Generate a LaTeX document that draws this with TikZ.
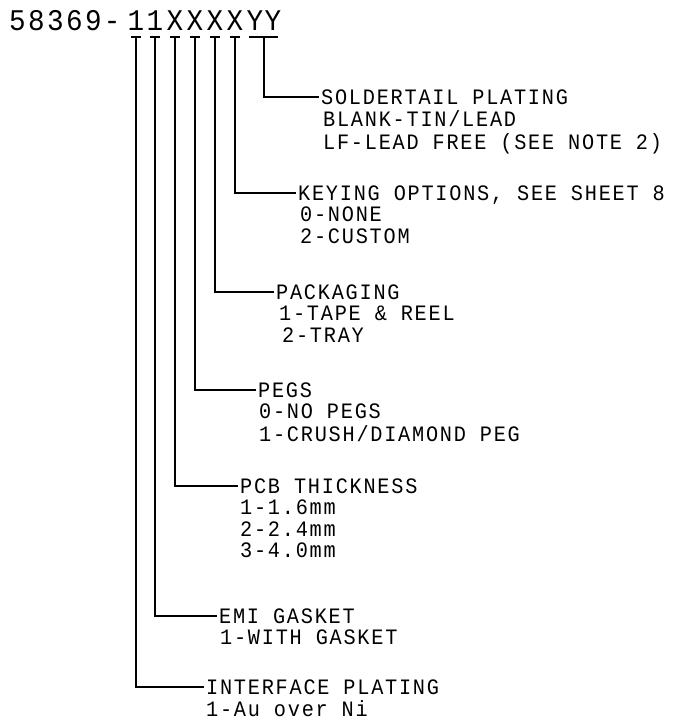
\documentclass[tikz,border=0pt]{standalone}
\usepackage{fontspec}
\newfontfamily\cadfont{Liberation Mono}[LetterSpace=8,FakeStretch=0.92]
\usetikzlibrary{positioning,calc}

\newcommand{\hdrfont}{\cadfont\fontsize{30}{30}\selectfont}
\newcommand{\lblfont}{\cadfont\fontsize{22}{21}\selectfont}

\tikzset{
  hdr/.style={font=\hdrfont, inner sep=0pt, anchor=base},
  ttl/.style={font=\lblfont, inner xsep=2pt, inner ysep=0pt, text height=14pt, text depth=0pt, anchor=west},
  opt/.style={font=\lblfont, inner sep=0pt, anchor=north west, align=left},
  lead/.style={line width=1.1pt},
}

\begin{document}
\begin{tikzpicture}[x=1pt,y=-1pt]

    \useasboundingbox (0,0) rectangle (682,725);

    % part number
    \node[hdr,anchor=base west] (pn) at (9,31) {58369-};
    \foreach \c/\x [count=\i] in {1/136,1/155,X/175,X/195,X/215,X/235,Y/255,Y/273}
        \node[hdr] (c\i) at (\x,31) {\c};

    % underlines
    \foreach \i in {1,...,6}
        \draw[lead] ([xshift=-5pt,yshift=-6pt]c\i.base) -- ([xshift=5pt,yshift=-6pt]c\i.base);
    \draw[lead] ([xshift=-6pt,yshift=-6pt]c7.base) -- ([xshift=5pt,yshift=-6pt]c8.base);
    \coordinate (yy) at ($(c7.base)!0.5!(c8.base)+(0,6)$);

    % titles
    \node[ttl] (solder) at (319,97) {SOLDERTAIL PLATING};
    \node[ttl] (keying) at (296,193) {KEYING OPTIONS, SEE SHEET 8};
    \node[ttl] (pack)   at (274,292) {PACKAGING};
    \node[ttl] (pegs)   at (256,390) {PEGS};
    \node[ttl] (pcb)    at (238,486) {PCB THICKNESS};
    \node[ttl] (emi)    at (217,616) {EMI GASKET};
    \node[ttl] (iface)  at (204,687) {INTERFACE PLATING};

    % options
    \node[opt] (solder-o) at ([xshift=4pt,yshift=-6.3pt]solder.base west) {\strut BLANK-TIN/LEAD\\LF-LEAD FREE (SEE NOTE 2)};
    \node[opt] (keying-o) at ([xshift=4pt,yshift=-6.3pt]keying.base west) {\strut 0-NONE\\2-CUSTOM};
    \node[opt] (pack-o)   at ([xshift=5pt,yshift=-6.3pt]pack.base west) {\strut 1-TAPE \& REEL\\\hspace{3pt}2-TRAY};
    \node[opt] (pegs-o)   at ([xshift=3pt,yshift=-6.3pt]pegs.base west) {\strut 0-NO PEGS\\1-CRUSH/DIAMOND PEG};
    \node[opt] (pcb-o)    at ([xshift=2pt,yshift=-6.3pt]pcb.base west) {\strut 1-1.6mm\\2-2.4mm\\3-4.0mm};
    \node[opt] (emi-o)    at ([xshift=3pt,yshift=-6.3pt]emi.base west) {\strut 1-WITH GASKET};
    \node[opt] (iface-o)  at ([xshift=2pt,yshift=-6.3pt]iface.base west) {\strut 1-Au over Ni};

    % leaders
    \draw[lead] (yy) |- (solder.west); % YY
    \draw[lead] ([yshift=-6pt]c6.base) |- (keying.west);
    \draw[lead] ([yshift=-6pt]c5.base) |- (pack.west);
    \draw[lead] ([yshift=-6pt]c4.base) |- (pegs.west);
    \draw[lead] ([yshift=-6pt]c3.base) |- (pcb.west);
    \draw[lead] ([yshift=-6pt]c2.base) |- (emi.west);
    \draw[lead] ([yshift=-6pt]c1.base) |- (iface.west);

\end{tikzpicture}
\end{document}
